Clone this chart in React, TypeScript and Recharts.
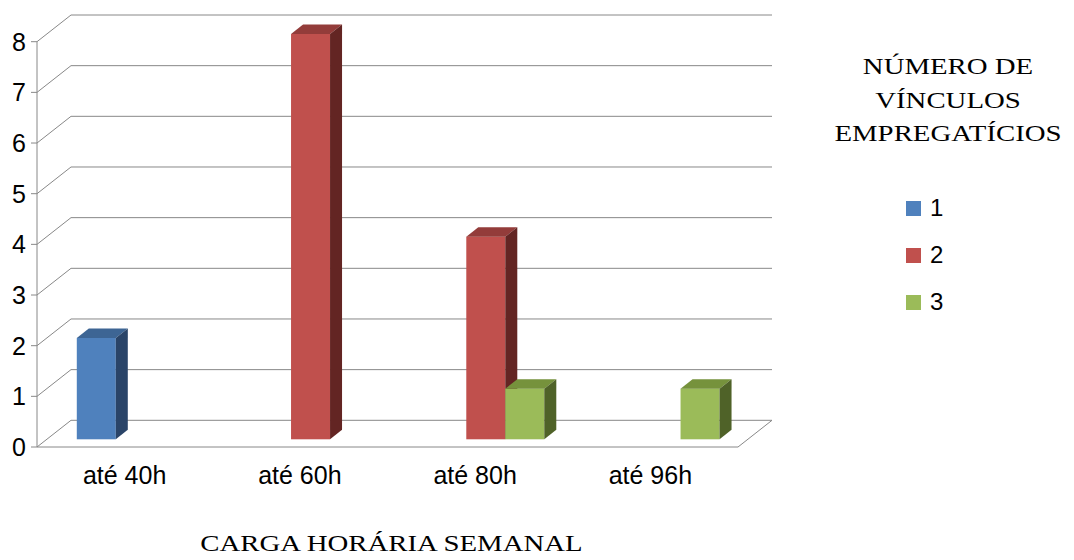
import { BarChart, Bar, XAxis, YAxis, CartesianGrid, Legend } from "recharts"

const categories = ["até 40h", "até 60h", "até 80h", "até 96h"]
const vinculos1 = [2, 0, 0, 0]
const vinculos2 = [0, 8, 4, 0]
const vinculos3 = [0, 0, 1, 1]
const yTicks = [0, 1, 2, 3, 4, 5, 6, 7, 8]
const edgeTicks = [0, 1, 2, 3, 4]
const legendTitle = ["NÚMERO DE", "VÍNCULOS", "EMPREGATÍCIOS"]
const axisTitle = "CARGA HORÁRIA SEMANAL"

const data = categories.map((name, i) => ({
  name,
  v1: vinculos1[i],
  v2: vinculos2[i],
  v3: vinculos3[i],
}))

// fake 3D: offset of the back wall, of the bar front face, and bar depth
const WALL = { dx: 34, dy: -26.7 }
const FRONT = { dx: 10, dy: -7.7 }
const DEPTH = { dx: 12, dy: -9.5 }

const GRID = "#888888"
const SANS = "Liberation Sans"
const SERIF = "Liberation Serif"

const shades = {
  v1: { front: "#4F81BD", top: "#3D6594", side: "#2A4468" },
  v2: { front: "#C0504D", top: "#933C3A", side: "#632523" },
  v3: { front: "#9BBB59", top: "#76923C", side: "#4F6228" },
}

function Box3D(props: any) {
  const { x, y, width, height, fill, top, side } = props
  if (!height || height <= 0) return null
  const fx = x + FRONT.dx
  const fy = y + FRONT.dy
  const bx = fx + DEPTH.dx
  const by = fy + DEPTH.dy
  return (
    <g>
      <rect x={fx} y={fy} width={width} height={height} fill={fill} />
      <polygon points={`${fx},${fy} ${fx + width},${fy} ${bx + width},${by} ${bx},${by}`} fill={top} />
      <polygon
        points={`${fx + width},${fy} ${bx + width},${by} ${bx + width},${by + height} ${fx + width},${fy + height}`}
        fill={side}
      />
    </g>
  )
}

// each horizontal grid line runs back along the side wall and across the back wall
function WallLine(p: any) {
  const { x1, x2, y1, y, height } = p
  let d = `M${x1},${y1} L${x1 + WALL.dx},${y1 + WALL.dy} L${x2 + WALL.dx},${y1 + WALL.dy}`
  if (Math.abs(y1 - (y + height)) < 1) d += ` M${x2},${y1} L${x2 + WALL.dx},${y1 + WALL.dy}`
  return <path key={p.key} d={d} stroke={GRID} strokeWidth={1} fill="none" />
}

function LegendBox({ payload }: any) {
  return (
    <svg width={254} height={330} style={{ display: "block" }}>
      {legendTitle.map((t, i) => (
        <g key={t} transform={`translate(128,${74 + i * 33.7}) scale(1.2,1)`}>
          <text x={0} y={0} textAnchor="middle" fontFamily={SERIF} fontSize={24} fill="#000">
            {t}
          </text>
        </g>
      ))}
      {(payload || []).map((e: any, i: number) => (
        <g key={e.value}>
          <rect x={86} y={201 + i * 47} width={15} height={15} fill={e.color} />
          <text x={110} y={216 + i * 47} fontFamily={SANS} fontSize={24} fill="#000">
            {e.value}
          </text>
        </g>
      ))}
    </svg>
  )
}

function AxisTitle({ viewBox }: any) {
  const cx = viewBox.x + viewBox.width / 2 + 4
  const by = viewBox.y + viewBox.height + 44
  return (
    <g transform={`translate(${cx},${by}) scale(1.2,1)`}>
      <text x={0} y={0} textAnchor="middle" fontFamily={SERIF} fontSize={24} fill="#000">
        {axisTitle}
      </text>
    </g>
  )
}

export default function App() {
  return (
    <div style={{ position: "absolute", left: 0, top: 0, background: "#fff" }}>
      <BarChart
        width={1074}
        height={560}
        data={data}
        margin={{ top: 41.7, right: 82, bottom: 53, left: 0 }}
        barCategoryGap="17%"
        barGap={0}
      >
        <CartesianGrid xAxisId="cat" vertical={false} horizontal={WallLine} />
        <XAxis
          xAxisId="cat"
          dataKey="name"
          axisLine={false}
          tickLine={false}
          tickSize={0}
          tickMargin={13}
          height={54}
          interval={0}
          tick={{ fill: "#000", fontSize: 25, fontFamily: SANS }}
          label={AxisTitle}
        />
        {/* floor edge: ticks sit on the category boundaries */}
        <XAxis
          xAxisId="base"
          type="number"
          domain={[0, categories.length]}
          allowDataOverflow
          ticks={edgeTicks}
          tick={false}
          tickSize={6}
          height={6}
          stroke={GRID}
        />
        <YAxis
          width={37}
          domain={[0, 8]}
          ticks={yTicks}
          interval={0}
          stroke={GRID}
          tickSize={6}
          tickMargin={5}
          tick={{ fill: "#000", fontSize: 25, fontFamily: SANS }}
        />
        <Legend
          layout="vertical"
          align="right"
          verticalAlign="top"
          wrapperStyle={{ right: 0, top: 0, width: 254 }}
          content={LegendBox}
        />
        {(["v1", "v2", "v3"] as const).map((k, i) => (
          <Bar
            key={k}
            xAxisId="cat"
            dataKey={k}
            name={String(i + 1)}
            fill={shades[k].front}
            isAnimationActive={false}
            shape={(p: any) => <Box3D {...p} top={shades[k].top} side={shades[k].side} />}
          />
        ))}
      </BarChart>
    </div>
  )
}
